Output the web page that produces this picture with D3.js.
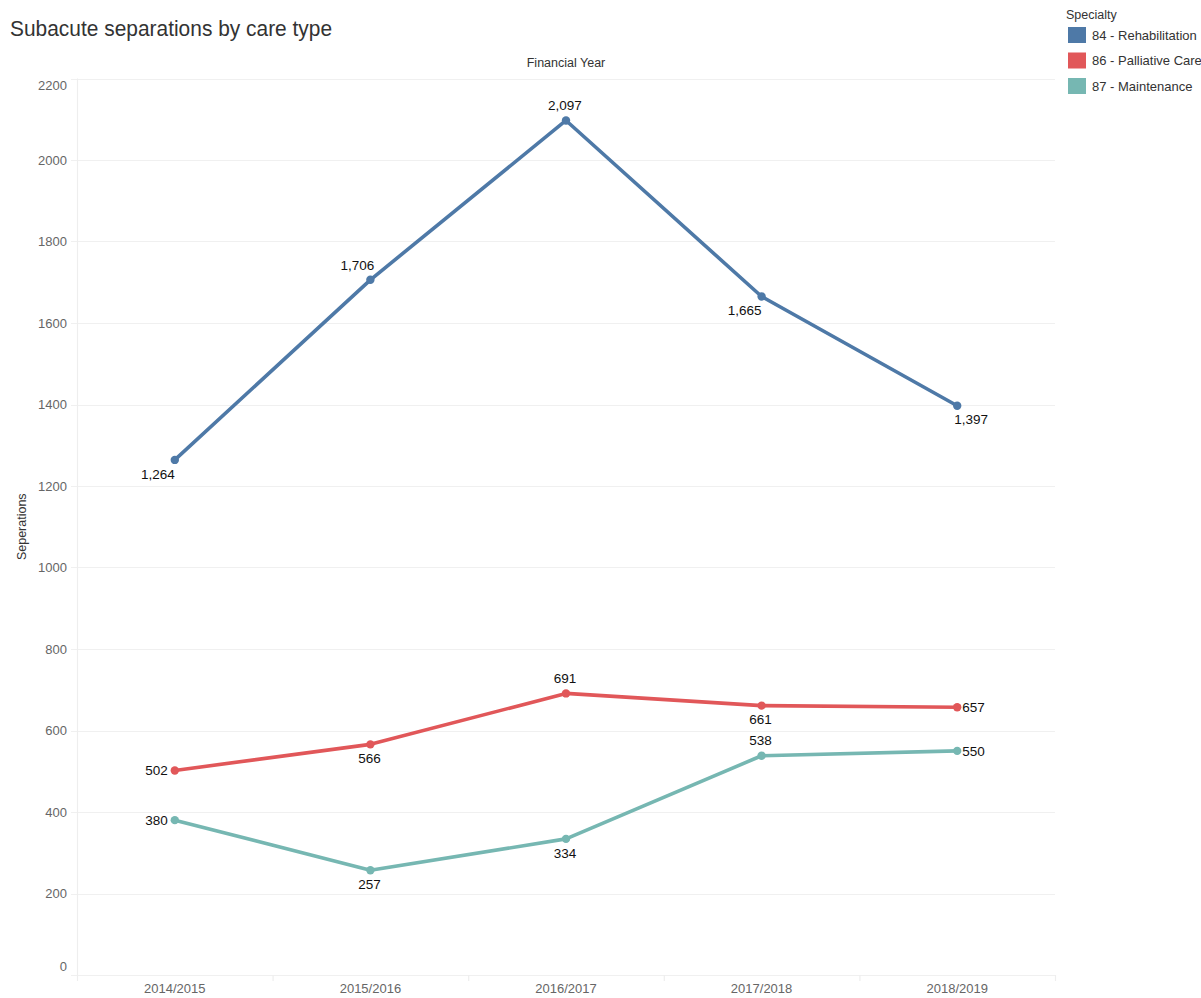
<!DOCTYPE html>
<html>
<head>
<meta charset="utf-8">
<script src="https://cdn.jsdelivr.net/npm/d3@7/dist/d3.min.js"></script>
<style>
  html, body { margin: 0; padding: 0; background: #fff; }
  svg { display: block; font-family: "Liberation Sans", Arial, sans-serif; }
</style>
</head>
<body>
<svg id="chart" width="1201" height="998"></svg>
<script>
// Financial years shown along the x axis
const years = ["2014/2015", "2015/2016", "2016/2017", "2017/2018", "2018/2019"];

// Separations per specialty
const rehabilitation = [1264, 1706, 2097, 1665, 1397];
const palliativeCare = [502, 566, 691, 661, 657];
const maintenance = [380, 257, 334, 538, 550];

// Legend / series names
const seriesNames = ["84 - Rehabilitation", "86 - Palliative Care", "87 - Maintenance"];

// Y axis ticks
const yTicks = [0, 200, 400, 600, 800, 1000, 1200, 1400, 1600, 1800, 2000, 2200];

// Where each value label sits relative to its point
const labelPlacement = [
  ["bl", "al", "a", "bl", "br"],
  ["l", "b", "a", "b", "r"],
  ["l", "b", "b", "a", "r"]
];

const colors = ["#4e79a7", "#e15759", "#76b7b2"];
const seriesValues = [rehabilitation, palliativeCare, maintenance];

const svg = d3.select("#chart");
const plotLeft = 77, plotRight = 1055, plotTop = 78.5, plotBottom = 975;

const x = d3.scaleBand().domain(years).range([plotLeft, plotRight]).padding(0);
const y = d3.scaleLinear().domain([0, 2200]).range([plotBottom, plotTop]);
const fmt = d3.format(",");

// Title (slightly condensed face)
svg.append("text")
  .attr("transform", "translate(10, 36) scale(0.93, 1)")
  .attr("font-size", 22.5).attr("fill", "#333")
  .text("Subacute separations by care type");

// Column header
svg.append("text")
  .attr("x", (plotLeft + plotRight) / 2).attr("y", 67)
  .attr("text-anchor", "middle")
  .attr("font-size", 12.5).attr("fill", "#333")
  .text("Financial Year");

// Horizontal gridlines
svg.append("g").selectAll("line")
  .data(yTicks).join("line")
  .attr("x1", plotLeft - 6).attr("x2", plotRight)
  .attr("y1", d => Math.round(y(d)) + 0.5).attr("y2", d => Math.round(y(d)) + 0.5)
  .attr("stroke", "#f0f0f0").attr("stroke-width", 1.2);

// Y axis line
svg.append("line")
  .attr("x1", plotLeft + 0.5).attr("x2", plotLeft + 0.5)
  .attr("y1", plotTop).attr("y2", plotBottom + 6)
  .attr("stroke", "#eeeeee").attr("stroke-width", 1.2);

// Column boundary ticks below the axis
const bounds = years.map(d => x(d)).concat([plotRight]);
svg.append("g").selectAll("line")
  .data(bounds.filter((d, i) => i !== 0)).join("line")
  .attr("x1", d => d + 0.5).attr("x2", d => d + 0.5)
  .attr("y1", plotBottom).attr("y2", plotBottom + 6)
  .attr("stroke", "#eeeeee").attr("stroke-width", 1.2);

// Y tick labels (top and bottom labels nudged inside the plot)
svg.append("g").selectAll("text")
  .data(yTicks).join("text")
  .attr("x", 67)
  .attr("y", d => y(d) + (d === 2200 ? 7 : d === 0 ? -9 : 0))
  .attr("dy", "0.35em")
  .attr("text-anchor", "end")
  .attr("font-size", 13).attr("fill", "#666")
  .text(d => d);

// X tick labels
svg.append("g").selectAll("text")
  .data(years).join("text")
  .attr("x", d => x(d) + x.bandwidth() / 2)
  .attr("y", 988).attr("dy", "0.35em")
  .attr("text-anchor", "middle")
  .attr("font-size", 13).attr("fill", "#666")
  .text(d => d);

// Y axis title
svg.append("text")
  .attr("transform", `translate(26, ${(plotTop + plotBottom) / 2}) rotate(-90)`)
  .attr("text-anchor", "middle")
  .attr("font-size", 12.5).attr("fill", "#333")
  .text("Seperations");

const cx = d => x(d) + x.bandwidth() / 2;
const line = d3.line().x(d => cx(d.year)).y(d => y(d.value));

seriesValues.forEach((vals, si) => {
  const pts = vals.map((v, i) => ({ year: years[i], value: v, place: labelPlacement[si][i] }));
  const g = svg.append("g");
  g.append("path")
    .datum(pts)
    .attr("d", line)
    .attr("fill", "none")
    .attr("stroke", colors[si])
    .attr("stroke-width", 3.6)
    .attr("stroke-linejoin", "round");
  g.selectAll("circle").data(pts).join("circle")
    .attr("cx", d => cx(d.year)).attr("cy", d => y(d.value))
    .attr("r", 4.2).attr("fill", colors[si]);
  g.selectAll("text").data(pts).join("text")
    .attr("x", d => {
      const px = cx(d.year);
      switch (d.place) {
        case "l": return px - 7;
        case "r": return px + 5;
        case "bl": return px - 17;
        case "al": return px - 13;
        case "br": return px + 14;
        default: return px - 1;
      }
    })
    .attr("y", d => {
      const py = y(d.value);
      switch (d.place) {
        case "a": case "al": return py - 15;
        case "b": case "bl": case "br": return py + 14;
        default: return py;
      }
    })
    .attr("dy", "0.35em")
    .attr("text-anchor", d => d.place === "l" ? "end" : d.place === "r" ? "start" : "middle")
    .attr("font-size", 13.5).attr("fill", "#111")
    .text(d => fmt(d.value));
});

// Legend
const legend = svg.append("g");
legend.append("text")
  .attr("x", 1066).attr("y", 15).attr("dy", "0.35em")
  .attr("font-size", 12.5).attr("fill", "#333")
  .text("Specialty");
const items = legend.selectAll("g.item").data(seriesNames).join("g")
  .attr("class", "item")
  .attr("transform", (d, i) => `translate(1068, ${27 + i * 25.5})`);
items.append("rect")
  .attr("width", 18).attr("height", 16)
  .attr("fill", (d, i) => colors[i]);
items.append("text")
  .attr("x", 24).attr("y", 8).attr("dy", "0.35em")
  .attr("font-size", 13).attr("fill", "#333")
  .text(d => d);
</script>
</body>
</html>
